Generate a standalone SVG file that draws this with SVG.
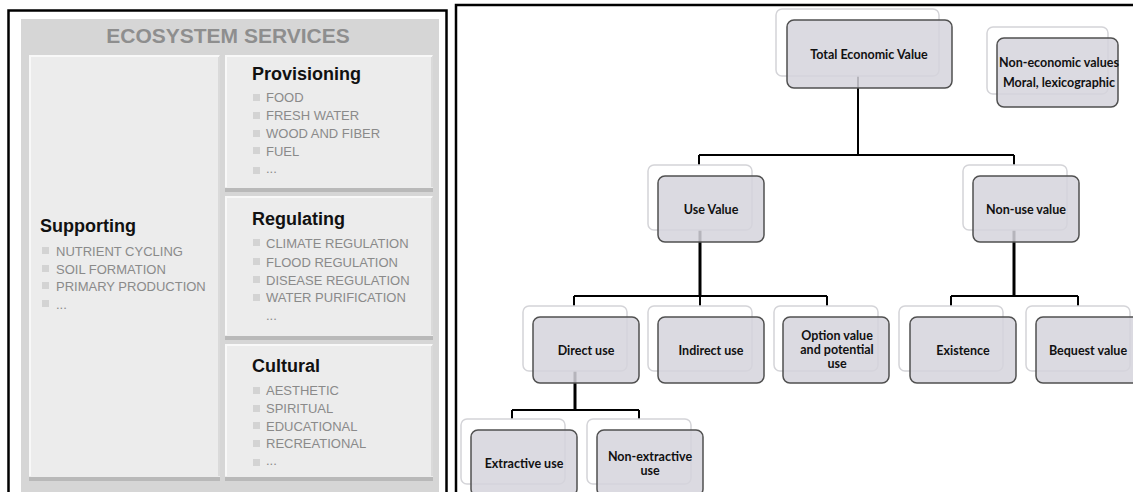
<svg xmlns="http://www.w3.org/2000/svg" width="1133" height="492" viewBox="0 0 1133 492">
  <defs>
    <style>
      .frame { fill: none; stroke: #000; stroke-width: 2.5; }
      .title { font-family: "Liberation Sans", Arial, sans-serif; font-weight: bold; font-size: 21px; fill: #8e8e8e; text-anchor: middle; }
      .head { font-family: "Liberation Sans", Arial, sans-serif; font-weight: bold; font-size: 18px; fill: #111; }
      .item { font-family: "Liberation Sans", Arial, sans-serif; font-size: 13px; fill: #8a8a8a; }
      .bul { fill: #d3d3d3; }
      .pnl { fill: #ececec; }
      .pshade { fill: #b9b9b9; }
      .phi { fill: none; stroke: #f8f8f8; stroke-width: 2; }
      .pside { fill: none; stroke: #dadada; stroke-width: 2; }
      .back { fill: #fff; stroke: #d4d4d8; stroke-width: 1.5; }
      .main { fill: #d5d4dc; fill-opacity: 0.85; stroke: #505050; stroke-width: 1.5; }
      .lbl { font-family: Lato, "Liberation Sans", sans-serif; font-weight: bold; font-size: 12.5px; fill: #111; text-anchor: middle; }
      .ln { fill: none; stroke: #000; stroke-width: 2; }
      .trunk { fill: none; stroke: #000; stroke-width: 3; }
    </style>
  </defs>

  <!-- ===== Ecosystem services panel ===== -->
  <g id="ecosystem-services">
    <rect class="frame" x="8.5" y="10.5" width="438" height="495"/>
    <rect x="21" y="19" width="418" height="480" fill="#d6d6d6"/>
    <text class="title" x="228" y="43">ECOSYSTEM SERVICES</text>
  </g>

  <g id="supporting">
    <rect class="pshade" x="29" y="55" width="191" height="426"/>
    <rect class="pnl" x="29" y="55" width="191" height="422"/>
    <path class="pside" d="M219,56 V476"/>
    <path class="phi" d="M30,476 V56 H219"/>
    <text class="head" x="40" y="232">Supporting</text>
    <rect class="bul" x="42" y="247" width="7" height="7"/>
    <text class="item" x="56" y="255.5">NUTRIENT CYCLING</text>
    <rect class="bul" x="42" y="265" width="7" height="7"/>
    <text class="item" x="56" y="273.5">SOIL FORMATION</text>
    <rect class="bul" x="42" y="282" width="7" height="7"/>
    <text class="item" x="56" y="290.5">PRIMARY PRODUCTION</text>
    <rect class="bul" x="42" y="300" width="7" height="7"/>
    <text class="item" x="56" y="309">...</text>
  </g>

  <g id="provisioning">
    <rect class="pshade" x="225" y="55" width="208" height="137"/>
    <rect class="pnl" x="225" y="55" width="208" height="133"/>
    <path class="pside" d="M432,56 V187"/>
    <path class="phi" d="M226,187 V56 H432"/>
    <text class="head" x="252" y="80">Provisioning</text>
    <rect class="bul" x="253" y="94" width="7" height="7"/>
    <text class="item" x="266" y="102">FOOD</text>
    <rect class="bul" x="253" y="112" width="7" height="7"/>
    <text class="item" x="266" y="120">FRESH WATER</text>
    <rect class="bul" x="253" y="130" width="7" height="7"/>
    <text class="item" x="266" y="138">WOOD AND FIBER</text>
    <rect class="bul" x="253" y="147" width="7" height="7"/>
    <text class="item" x="266" y="155.5">FUEL</text>
    <rect class="bul" x="253" y="167" width="7" height="7"/>
    <text class="item" x="266" y="173">...</text>
  </g>

  <g id="regulating">
    <rect class="pshade" x="225" y="196" width="208" height="144"/>
    <rect class="pnl" x="225" y="196" width="208" height="140"/>
    <path class="pside" d="M432,197 V335"/>
    <path class="phi" d="M226,335 V197 H432"/>
    <text class="head" x="252" y="225">Regulating</text>
    <rect class="bul" x="253" y="239" width="7" height="7"/>
    <text class="item" x="266" y="247.5">CLIMATE REGULATION</text>
    <rect class="bul" x="253" y="258" width="7" height="7"/>
    <text class="item" x="266" y="266.5">FLOOD REGULATION</text>
    <rect class="bul" x="253" y="276" width="7" height="7"/>
    <text class="item" x="266" y="284.5">DISEASE REGULATION</text>
    <rect class="bul" x="253" y="294" width="7" height="7"/>
    <text class="item" x="266" y="302">WATER PURIFICATION</text>
    <text class="item" x="266" y="320">...</text>
  </g>

  <g id="cultural">
    <rect class="pshade" x="225" y="344" width="208" height="137"/>
    <rect class="pnl" x="225" y="344" width="208" height="133"/>
    <path class="pside" d="M432,345 V476"/>
    <path class="phi" d="M226,476 V345 H432"/>
    <text class="head" x="252" y="372">Cultural</text>
    <rect class="bul" x="253" y="387" width="7" height="7"/>
    <text class="item" x="266" y="395">AESTHETIC</text>
    <rect class="bul" x="253" y="405" width="7" height="7"/>
    <text class="item" x="266" y="413">SPIRITUAL</text>
    <rect class="bul" x="253" y="422" width="7" height="7"/>
    <text class="item" x="266" y="430.5">EDUCATIONAL</text>
    <rect class="bul" x="253" y="440" width="7" height="7"/>
    <text class="item" x="266" y="448">RECREATIONAL</text>
    <rect class="bul" x="253" y="459" width="7" height="7"/>
    <text class="item" x="266" y="465">...</text>
  </g>

  <!-- ===== Total economic value hierarchy ===== -->
  <rect class="frame" x="456" y="5" width="700" height="500"/>

  <g id="connectors">
    <path class="ln" d="M858,50 V155 M699,155 H1014 M699,155 V172 M1014,155 V172"/>
    <path class="trunk" d="M700,200 V296"/>
    <path class="ln" d="M574,296 H827 M574,296 V312 M700,296 V312 M827,296 V312"/>
    <path class="trunk" d="M1014,200 V296"/>
    <path class="ln" d="M951,296 H1078 M951,296 V312 M1078,296 V312"/>
    <path class="trunk" d="M575,340 V410"/>
    <path class="ln" d="M512,410 H639 M512,410 V425 M639,410 V425"/>
  </g>

  <g id="total-economic-value">
    <rect class="back" x="776" y="9" width="163" height="67" rx="6"/>
    <rect class="main" x="787" y="20" width="165" height="68" rx="7"/>
    <text class="lbl" x="869" y="59">Total Economic Value</text>
  </g>

  <g id="non-economic-values">
    <rect class="back" x="987" y="27" width="121" height="67" rx="6"/>
    <rect class="main" x="997" y="38" width="121" height="69" rx="7"/>
    <text class="lbl" x="1059" y="67">Non-economic values</text>
    <text class="lbl" x="1059" y="87">Moral, lexicographic</text>
  </g>

  <g id="use-value">
    <rect class="back" x="648" y="165" width="104" height="65" rx="6"/>
    <rect class="main" x="658" y="176" width="106" height="66" rx="7"/>
    <text class="lbl" x="711" y="214">Use Value</text>
  </g>

  <g id="non-use-value">
    <rect class="back" x="963" y="165" width="104" height="65" rx="6"/>
    <rect class="main" x="973" y="176" width="106" height="66" rx="7"/>
    <text class="lbl" x="1026" y="214">Non-use value</text>
  </g>

  <g id="direct-use">
    <rect class="back" x="523" y="306" width="104" height="65" rx="6"/>
    <rect class="main" x="533" y="317" width="106" height="66" rx="7"/>
    <text class="lbl" x="586" y="355">Direct use</text>
  </g>

  <g id="indirect-use">
    <rect class="back" x="648" y="306" width="104" height="65" rx="6"/>
    <rect class="main" x="658" y="317" width="106" height="66" rx="7"/>
    <text class="lbl" x="711" y="355">Indirect use</text>
  </g>

  <g id="option-value">
    <rect class="back" x="774" y="306" width="104" height="65" rx="6"/>
    <rect class="main" x="783" y="317" width="106" height="66" rx="7"/>
    <text class="lbl" x="837" y="340">Option value</text>
    <text class="lbl" x="837" y="354">and potential</text>
    <text class="lbl" x="837" y="368">use</text>
  </g>

  <g id="existence">
    <rect class="back" x="899" y="306" width="104" height="65" rx="6"/>
    <rect class="main" x="910" y="317" width="106" height="66" rx="7"/>
    <text class="lbl" x="963" y="355">Existence</text>
  </g>

  <g id="bequest-value">
    <rect class="back" x="1026" y="306" width="104" height="65" rx="6"/>
    <rect class="main" x="1036" y="317" width="106" height="66" rx="7"/>
    <text class="lbl" x="1088" y="355">Bequest value</text>
  </g>

  <g id="extractive-use">
    <rect class="back" x="461" y="419" width="104" height="65" rx="6"/>
    <rect class="main" x="471" y="430" width="106" height="66" rx="7"/>
    <text class="lbl" x="524" y="468">Extractive use</text>
  </g>

  <g id="non-extractive-use">
    <rect class="back" x="587" y="419" width="104" height="65" rx="6"/>
    <rect class="main" x="597" y="430" width="106" height="66" rx="7"/>
    <text class="lbl" x="650" y="461">Non-extractive</text>
    <text class="lbl" x="650" y="475">use</text>
  </g>
</svg>
